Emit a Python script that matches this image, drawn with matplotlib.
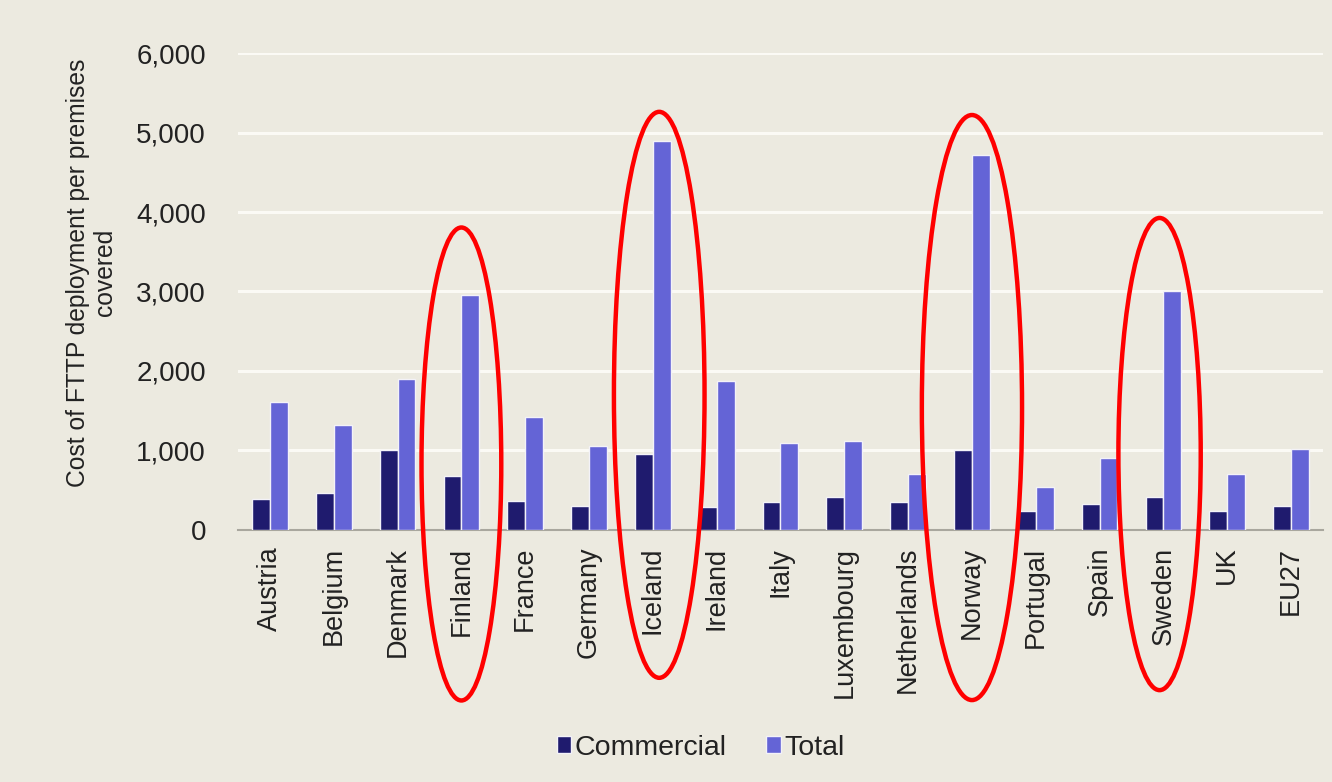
import matplotlib
matplotlib.use("Agg")
import matplotlib.pyplot as plt
from matplotlib.patches import Ellipse
import numpy as np

countries = ["Austria", "Belgium", "Denmark", "Finland", "France", "Germany",
             "Iceland", "Ireland", "Italy", "Luxembourg", "Netherlands",
             "Norway", "Portugal", "Spain", "Sweden", "UK", "EU27"]
commercial = [390, 470, 1000, 680, 370, 300, 950, 290, 350, 410, 355,
              1000, 240, 325, 420, 240, 305]
total = [1610, 1315, 1900, 2950, 1415, 1055, 4890, 1880, 1095, 1115, 710,
         4720, 535, 910, 3000, 710, 1015]
y_ticks = [0, 1000, 2000, 3000, 4000, 5000, 6000]
highlighted = ["Finland", "Iceland", "Norway", "Sweden"]

plt.rcParams["font.family"] = ["Liberation Sans", "DejaVu Sans"]

bg = "#ecEAE0"
fig = plt.figure(figsize=(13.32, 7.82), dpi=100, facecolor=bg)
ax = fig.add_axes([0.1787, 0.3223, 0.8145, 0.6099], facecolor=bg)

x = np.arange(len(countries))
w = 0.28
ax.bar(x - w / 2, commercial, width=w, color="#1f1b6e", edgecolor="#f3f2f8",
       linewidth=1.0, label="Commercial", zorder=3)
ax.bar(x + w / 2, total, width=w, color="#6464d6", edgecolor="#f3f2f8",
       linewidth=1.0, label="Total", zorder=3)

ax.set_xlim(-0.5, len(countries) - 0.5)
ax.set_ylim(0, 6000)
ax.set_yticks(y_ticks)
ax.set_yticklabels([f"{v:,}" for v in y_ticks], fontsize=20, color="#222222")
ax.tick_params(axis="y", length=0, pad=23)
ax.set_xticks(x)
ax.set_xticklabels(countries, rotation=90, fontsize=19.5, color="#222222")
ax.tick_params(axis="x", length=0, pad=12)

ax.grid(axis="y", color="#fbfaf5", linewidth=2.2, zorder=0)
for side in ["top", "right", "left"]:
    ax.spines[side].set_visible(False)
ax.spines["bottom"].set_color("#a9a79e")
ax.spines["bottom"].set_linewidth(1.5)

ax.set_ylabel("Cost of FTTP deployment per premises\ncovered", fontsize=17.7,
              color="#222222", labelpad=14, linespacing=1.15)
ax.yaxis.label.set_y(0.54)

# red rings drawn around the Nordic countries
rings = {"Finland": (0.0, 830, 1.25, 5950),
         "Iceland": (0.1, 1700, 1.42, 7120),
         "Norway": (0.0, 1540, 1.57, 7360),
         "Sweden": (-0.06, 955, 1.29, 5940)}
for name in highlighted:
    dx, cy, ew, eh = rings[name]
    i = countries.index(name)
    ax.add_patch(Ellipse((i + dx, cy), ew, eh, fill=False, edgecolor="#ff0000",
                         linewidth=3.2, clip_on=False, zorder=5))

leg = fig.legend(loc="center", bbox_to_anchor=(0.526, 0.044), ncol=2,
                 frameon=False, fontsize=20.5, handlelength=0.5,
                 handleheight=0.55, handletextpad=0.12, columnspacing=1.4)
for t in leg.get_texts():
    t.set_color("#222222")

fig.savefig("out.png", dpi=100, facecolor=bg)
